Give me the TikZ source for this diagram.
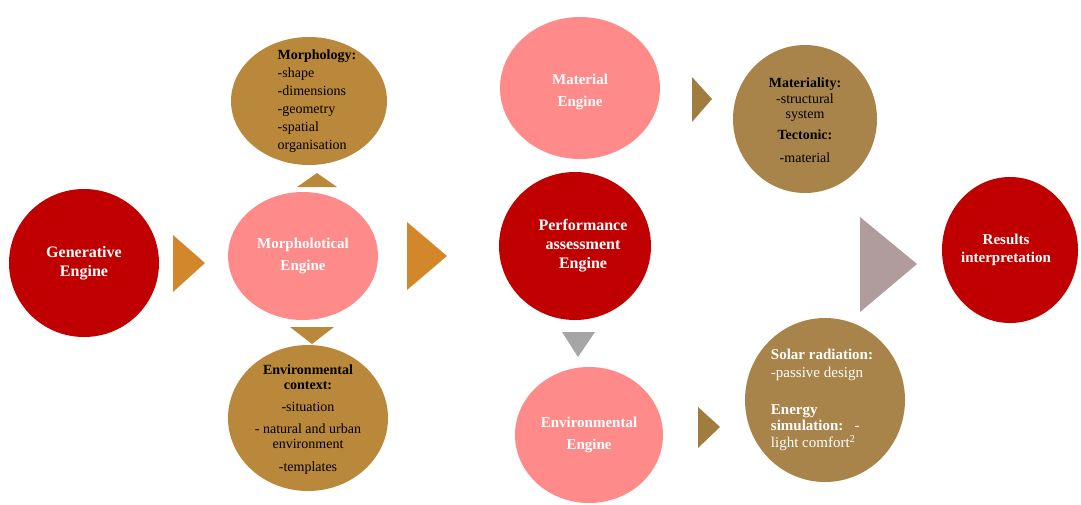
\documentclass[tikz,border=0pt]{standalone}
\usepackage{fontspec}
\setmainfont{Liberation Serif}
\usetikzlibrary{shapes.geometric}
\definecolor{engred}{RGB}{192,0,0}
\definecolor{engpink}{RGB}{255,138,138}
\definecolor{triorange}{RGB}{210,135,42}
\definecolor{bubochre}{RGB}{186,136,58}
\definecolor{bubtan}{RGB}{168,132,74}
\definecolor{tritan}{RGB}{160,124,62}
\definecolor{trigrey}{RGB}{166,166,166}
\definecolor{trimauve}{RGB}{176,156,156}
\tikzset{
  bubble/.style={ellipse, inner sep=0pt, draw=none},
  engtext/.style={text=white, align=center, inner sep=0pt,
    font=\fontsize{16}{19}\selectfont\bfseries},
  pinktext/.style={text=white, align=center, inner sep=0pt,
    font=\fontsize{15}{22}\selectfont\bfseries},
  notetext/.style={text=black, inner sep=0pt,
    font=\fontsize{14}{15}\selectfont}
}
\begin{document}
\begin{tikzpicture}[x=1pt,y=-1pt]
    \useasboundingbox (0,0) rectangle (1081,504);
    \node[bubble, fill=engred, minimum width=150, minimum height=148] (gen) at (84,263) {};
    \node[bubble, fill=engpink, minimum width=150, minimum height=128] (morph) at (303,256) {};
    \node[bubble, fill=bubochre, minimum width=156, minimum height=128] (morpho) at (309,101) {};
    \node[bubble, fill=bubochre, minimum width=160, minimum height=146] (envctx) at (308,418) {};
    \node[bubble, fill=engred, minimum width=152, minimum height=148] (perf) at (575,246) {};
    \node[bubble, fill=engpink, minimum width=160, minimum height=142] (mat) at (580,88) {};
    \node[bubble, fill=engpink, minimum width=148, minimum height=136] (enveng) at (589,435) {};
    \node[bubble, fill=bubtan, minimum width=144, minimum height=148] (matty) at (805,119) {};
    \node[bubble, fill=bubtan, minimum width=160, minimum height=164] (solar) at (825,400) {};
    \node[bubble, fill=engred, minimum width=136, minimum height=146] (res) at (1010,250) {};
    \fill[triorange] (173,235) -- (205,263) -- (173,292) -- cycle;
    \fill[bubochre] (297,187) -- (317,173) -- (337,187) -- cycle;
    \fill[bubochre] (290,327) -- (312,344) -- (334,327) -- cycle;
    \fill[triorange] (407,222) -- (447,256) -- (407,290) -- cycle;
    \fill[trigrey] (562,332) -- (578,357) -- (595,332) -- cycle;
    \fill[tritan] (692,77) -- (712,99) -- (692,122) -- cycle;
    \fill[tritan] (698,407) -- (720,427) -- (698,448) -- cycle;
    \fill[trimauve] (860,217) -- (917,264) -- (860,312) -- cycle;
    \node[engtext] (gen-t) at (gen) {Generative\\Engine};
    \node[engtext] (perf-t) at ([xshift=8pt]perf) {Performance\\assessment\\Engine};
    \node[engtext, font=\fontsize{15}{18}\selectfont\bfseries] (res-t) at ([xshift=-4pt]res) {Results\\interpretation};
    \node[pinktext] (morph-t) at (morph) {Morpholotical\\Engine};
    \node[pinktext] (mat-t) at ([yshift=-4pt]mat) {Material\\Engine};
    \node[pinktext] (enveng-t) at (enveng) {Environmental\\Engine};
    \node[notetext, align=left, font=\fontsize{14}{18}\selectfont] (morpho-t) at ([xshift=8pt]morpho)
      {\textbf{Morphology:}\\-shape\\-dimensions\\-geometry\\-spatial\\organisation};
    \node[notetext, align=center] (envctx-t) at ([yshift=-2pt]envctx)
      {\textbf{Environmental}\\\textbf{context:}\\[7pt]-situation\\[7pt]- natural and urban\\environment\\[8pt]-templates};
    \node[notetext, align=center] (matty-t) at ([yshift=-1pt]matty)
      {\textbf{Materiality:}\\[1pt]-structural\\system\\[6pt]\textbf{Tectonic:}\\[8pt]-material};
    \node[notetext, text=white, align=left, font=\fontsize{15}{16}\selectfont] (solar-t) at ([xshift=-3pt]solar)
      {\textbf{Solar radiation:}\\[2pt]-passive design\\[21pt]\textbf{Energy}\\\textbf{simulation:}\ \ \ -\\[1pt]light comfort\textsuperscript{2}};
\end{tikzpicture}
\end{document}
